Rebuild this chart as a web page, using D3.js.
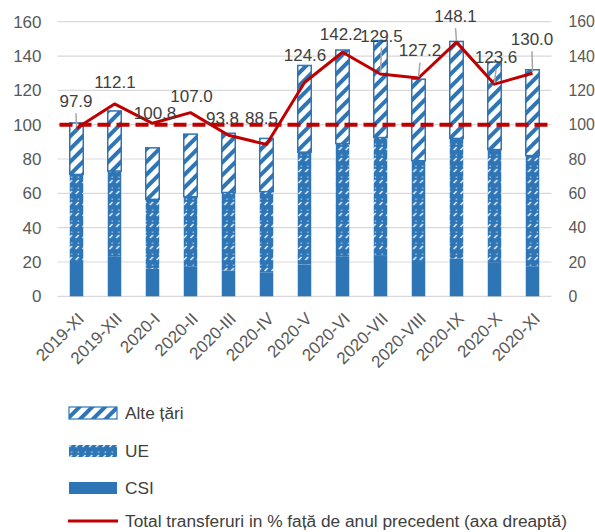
<!DOCTYPE html>
<html>
<head>
<meta charset="utf-8">
<script src="https://cdn.jsdelivr.net/npm/d3@7"></script>
<style>
  body { margin: 0; background: #fff; }
  text { font-family: "Liberation Sans", Arial, sans-serif; }
</style>
</head>
<body>
<div id="chart"></div>
<script>
// data
const categories = ['2019-XI', '2019-XII', '2020-I', '2020-II', '2020-III', '2020-IV', '2020-V',
  '2020-VI', '2020-VII', '2020-VIII', '2020-IX', '2020-X', '2020-XI'];
const csi = [20, 23, 16, 17.5, 15, 14, 18.5, 23, 24, 20, 22, 19.5, 17.5];
const ue = [51, 50, 40.5, 40.5, 45.5, 47, 65.5, 66, 68.5, 59, 70, 66, 64.5];
const alte = [30, 35, 30, 36.5, 34.5, 31, 50.5, 54.5, 56.5, 47.5, 56.5, 51, 50];
const totalPct = [97.9, 112.1, 100.8, 107.0, 93.8, 88.5, 124.6, 142.2, 129.5, 127.2, 148.1, 123.6, 130.0];
const refLevel = 100;
const yTicks = [0, 20, 40, 60, 80, 100, 120, 140, 160];
const seriesNames = ['Alte țări', 'UE', 'CSI', 'Total transferuri in % față de anul precedent (axa dreaptă)'];

// where Excel put the data labels (dx, dy from the point) and which got leader lines
const labelPlace = [
  [-0.5, -21, true], [0.5, -15.5, false], [2.5, -4.5, false], [1, -11, false],
  [-6, -11.5, false], [-5, -20.5, false], [0.5, -21, false], [-1.5, -12.5, false],
  [1, -32.5, true], [1.5, -21.5, true], [-1, -20, true], [1.5, -21, true], [-0.5, -28, true]
];

const blue = '#2e75b6', red = '#c00000';
const W = 595, H = 532;
const plot = { left: 57.5, right: 551.5, top: 21.7, bottom: 296.3 };
const fontSize = 17;

const svg = d3.select('#chart').append('svg')
  .attr('width', W).attr('height', H);

const defs = svg.append('defs');
const stripes = defs.append('pattern')
  .attr('id', 'stripes').attr('patternUnits', 'userSpaceOnUse')
  .attr('width', 9).attr('height', 9)
  .attr('patternTransform', 'rotate(45)');
stripes.append('rect').attr('width', 9).attr('height', 9).attr('fill', '#fff');
stripes.append('rect').attr('width', 4).attr('height', 9).attr('fill', blue);

const dots = defs.append('pattern')
  .attr('id', 'dots').attr('patternUnits', 'userSpaceOnUse')
  .attr('width', 6.75).attr('height', 11);
dots.append('rect').attr('width', 6.75).attr('height', 11).attr('fill', blue);
dots.append('path').attr('d', 'M1.5,7 L4.5,4').attr('stroke', '#fff')
  .attr('stroke-width', 1.7).attr('opacity', 0.85);
dots.append('rect').attr('x', 3.5).attr('y', 0.5).attr('width', 1.4).attr('height', 1.4)
  .attr('fill', '#fff').attr('opacity', 0.6);

const x = d3.scaleBand()
  .domain(categories)
  .range([plot.left, plot.right])
  .paddingInner(0.645)
  .paddingOuter(0.3225);

const y = d3.scaleLinear().domain([0, 160]).range([plot.bottom, plot.top]);
const y2 = d3.scaleLinear().domain([0, 160]).range([plot.bottom, plot.top]);

// gridlines
svg.append('g')
  .selectAll('line')
  .data(yTicks)
  .join('line')
  .attr('x1', plot.left).attr('x2', plot.right)
  .attr('y1', d => y(d)).attr('y2', d => y(d))
  .attr('stroke', '#d9d9d9').attr('stroke-width', 1.2);

// left and right axes, labels only
const leftAxis = svg.append('g')
  .attr('transform', 'translate(' + (plot.left - 14) + ',0)')
  .call(d3.axisLeft(y).tickValues(yTicks).tickSize(0).tickPadding(2));
const rightAxis = svg.append('g')
  .attr('transform', 'translate(' + (plot.right + 15) + ',0)')
  .call(d3.axisRight(y2).tickValues(yTicks).tickSize(0).tickPadding(2));
[leftAxis, rightAxis].forEach(a => {
  a.select('.domain').remove();
  a.selectAll('text').attr('font-size', fontSize).attr('fill', '#595959')
    .attr('font-family', '"Liberation Sans", Arial, sans-serif');
});
// right labels sit against the page edge; keep them inside
rightAxis.selectAll('text').attr('font-size', 15.8);

// stacked bars
const rows = categories.map((c, i) => ({ cat: c, CSI: csi[i], UE: ue[i], Alte: alte[i] }));
const stack = d3.stack().keys(['CSI', 'UE', 'Alte'])(rows);
const fills = { CSI: blue, UE: 'url(#dots)', Alte: 'url(#stripes)' };

svg.append('g')
  .selectAll('g')
  .data(stack)
  .join('g')
  .attr('fill', d => fills[d.key])
  .each(function (layer) {
    d3.select(this).selectAll('rect')
      .data(layer)
      .join('rect')
      .attr('x', d => x(d.data.cat))
      .attr('width', x.bandwidth())
      .attr('y', d => y(d[1]))
      .attr('height', d => y(d[0]) - y(d[1]))
      .attr('stroke', layer.key === 'Alte' ? blue : 'none')
      .attr('stroke-width', 1.5);
  });

// 100% reference line (dashed)
svg.append('line')
  .attr('x1', plot.left + 2).attr('x2', plot.right + 1)
  .attr('y1', y2(refLevel)).attr('y2', y2(refLevel))
  .attr('stroke', red).attr('stroke-width', 4)
  .attr('stroke-dasharray', '13,6');

// total transfers line
const cx = i => x(categories[i]) + x.bandwidth() / 2;
const line = d3.line()
  .x((d, i) => cx(i))
  .y(d => y2(d));

svg.append('path')
  .datum(totalPct)
  .attr('fill', 'none')
  .attr('stroke', red)
  .attr('stroke-width', 3)
  .attr('stroke-linejoin', 'round')
  .attr('d', line);

// data labels with leader lines
const labels = svg.append('g');
totalPct.forEach((v, i) => {
  const [dx, dy, leader] = labelPlace[i];
  const px = cx(i), py = y2(v);
  if (leader) {
    labels.append('line')
      .attr('x1', px + dx).attr('y1', py + dy + 6)
      .attr('x2', px).attr('y2', py - 1)
      .attr('stroke', '#a6a6a6').attr('stroke-width', 1.5);
  }
  labels.append('text')
    .attr('x', px + dx).attr('y', py + dy)
    .attr('text-anchor', 'middle')
    .attr('font-size', fontSize).attr('fill', '#404040')
    .text(v.toFixed(1));
});

// category labels, rotated
svg.append('g')
  .selectAll('text')
  .data(categories)
  .join('text')
  .attr('transform', d => 'translate(' + (x(d) + x.bandwidth() / 2) + ',' + (plot.bottom + 15) + ') rotate(-45)')
  .attr('text-anchor', 'end')
  .attr('dy', '0.71em')
  .attr('font-size', fontSize).attr('fill', '#595959')
  .text(d => d);

// legend
const legendY = [413, 451, 488, 521];
const legend = svg.append('g');
seriesNames.forEach((name, i) => {
  if (i < 3) {
    legend.append('rect')
      .attr('x', 69).attr('y', legendY[i] - 6)
      .attr('width', 48).attr('height', 12)
      .attr('fill', [fills.Alte, fills.UE, fills.CSI][i])
      .attr('stroke', i === 0 ? blue : 'none').attr('stroke-width', 1.2);
  } else {
    legend.append('line')
      .attr('x1', 68).attr('x2', 118)
      .attr('y1', legendY[i]).attr('y2', legendY[i])
      .attr('stroke', red).attr('stroke-width', 3);
  }
  legend.append('text')
    .attr('x', 125).attr('y', legendY[i])
    .attr('dy', '0.35em')
    .attr('font-size', 17.3).attr('fill', '#404040')
    .text(name);
});
</script>
</body>
</html>
